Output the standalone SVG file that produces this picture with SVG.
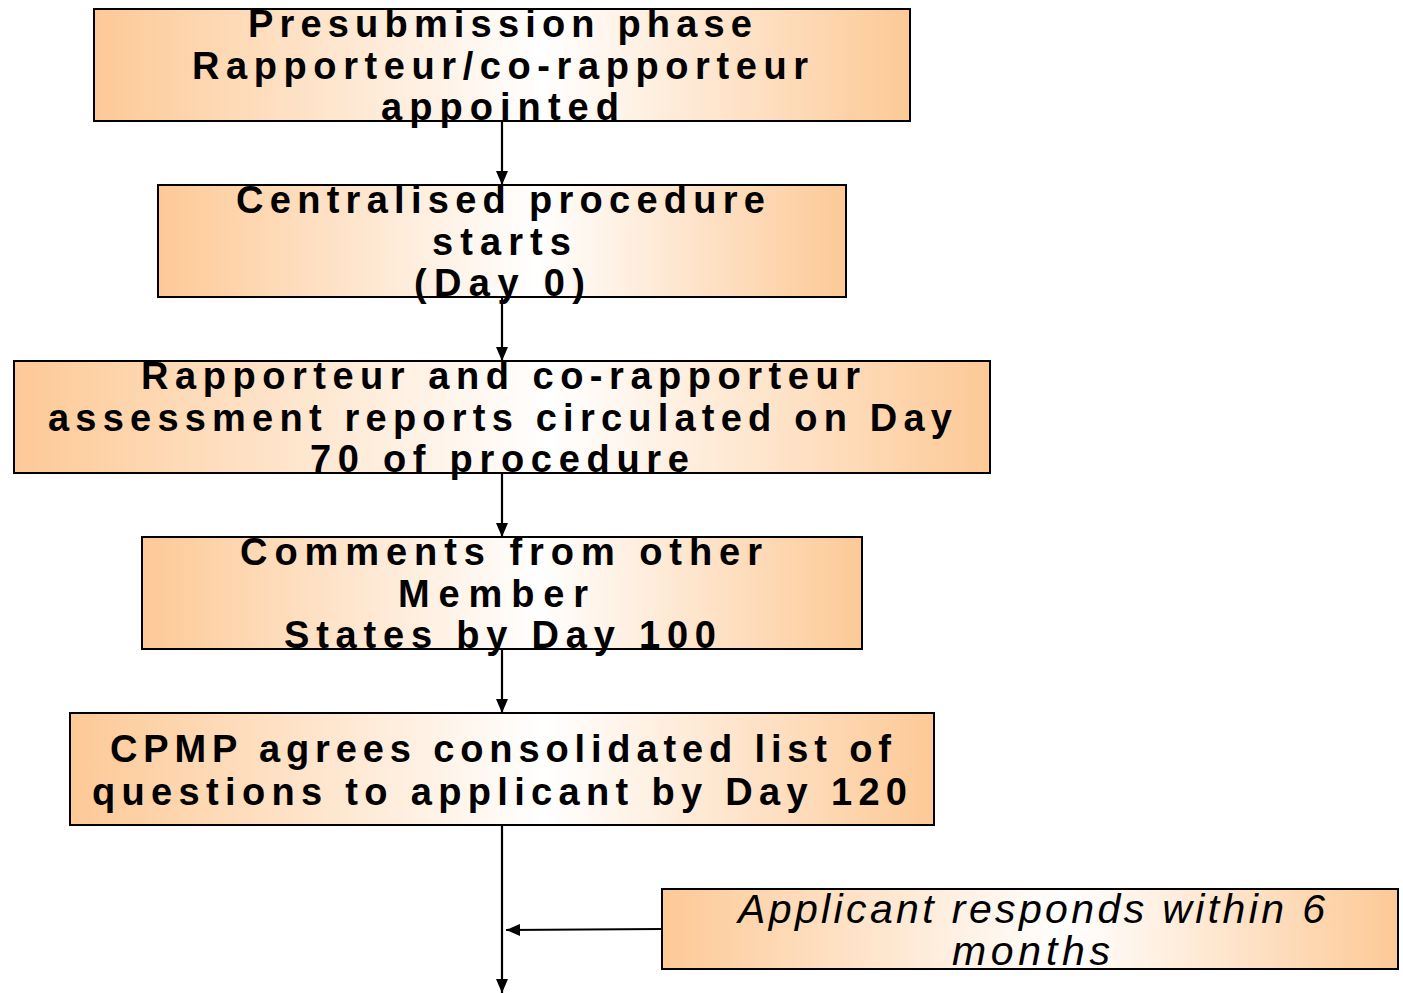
<svg xmlns="http://www.w3.org/2000/svg" width="1403" height="993" viewBox="0 0 1403 993">
  <defs>
    <linearGradient id="peach" x1="0" y1="0" x2="1" y2="0">
      <stop offset="0" stop-color="#FDC996"/>
      <stop offset="0.55" stop-color="#FFFFFF"/>
      <stop offset="1" stop-color="#FDC996"/>
    </linearGradient>
    <marker id="head" viewBox="0 0 14 12" refX="14" refY="6" markerWidth="14" markerHeight="12" markerUnits="userSpaceOnUse" orient="auto">
      <path d="M0,0 L14,6 L0,12 Z" fill="#000"/>
    </marker>
  </defs>
  <style>
    .box { fill: url(#peach); stroke: #000; stroke-width: 2; }
    .t { font-family: "Liberation Sans", Arial, sans-serif; font-weight: bold; font-size: 38px; fill: #000; }
    .ti { font-family: "Liberation Sans", Arial, sans-serif; font-style: italic; font-size: 41px; fill: #000; }
    .link { stroke: #000; stroke-width: 2.2; fill: none; marker-end: url(#head); }
  </style>
  <rect width="1403" height="993" fill="#fff"/>

  <g id="connectors">
    <path class="link" d="M502,121 V185"/>
    <path class="link" d="M502,297 V361"/>
    <path class="link" d="M502,473 V537"/>
    <path class="link" d="M502,649 V713"/>
    <path class="link" d="M502,825 V993"/>
    <path class="link" d="M662,929 L506,930"/>
  </g>

  <g id="presubmission">
    <rect class="box" x="94" y="9" width="816" height="112"/>
    <text class="t" x="248" y="37" textLength="504" lengthAdjust="spacing">Presubmission phase</text>
    <text class="t" x="192" y="79" textLength="616" lengthAdjust="spacing">Rapporteur/co-rapporteur</text>
    <text class="t" x="381" y="120" textLength="238" lengthAdjust="spacing">appointed</text>
  </g>

  <g id="procedure-start">
    <rect class="box" x="158" y="185" width="688" height="112"/>
    <text class="t" x="236" y="213" textLength="529" lengthAdjust="spacing">Centralised procedure</text>
    <text class="t" x="432" y="255" textLength="139" lengthAdjust="spacing">starts</text>
    <text class="t" x="414" y="296" textLength="171" lengthAdjust="spacing">(Day 0)</text>
  </g>

  <g id="assessment-reports">
    <rect class="box" x="14" y="361" width="976" height="112"/>
    <text class="t" x="141" y="389" textLength="719" lengthAdjust="spacing">Rapporteur and co-rapporteur</text>
    <text class="t" x="48" y="431" textLength="904" lengthAdjust="spacing">assessment reports circulated on Day</text>
    <text class="t" x="310" y="472" textLength="379" lengthAdjust="spacing">70 of procedure</text>
  </g>

  <g id="member-comments">
    <rect class="box" x="142" y="537" width="720" height="112"/>
    <text class="t" x="240" y="565" textLength="522" lengthAdjust="spacing">Comments from other</text>
    <text class="t" x="398" y="607" textLength="190" lengthAdjust="spacing">Member</text>
    <text class="t" x="284" y="648" textLength="432" lengthAdjust="spacing">States by Day 100</text>
  </g>

  <g id="list-of-questions">
    <rect class="box" x="70" y="713" width="864" height="112"/>
    <text class="t" x="110" y="762" textLength="781" lengthAdjust="spacing">CPMP agrees consolidated list of</text>
    <text class="t" x="92" y="805" textLength="815" lengthAdjust="spacing">questions to applicant by Day 120</text>
  </g>

  <g id="applicant-response">
    <rect class="box" x="662" y="889" width="736" height="80"/>
    <text class="ti" x="738" y="923" textLength="587" lengthAdjust="spacing">Applicant responds within 6</text>
    <text class="ti" x="952" y="965" textLength="158" lengthAdjust="spacing">months</text>
  </g>
</svg>
